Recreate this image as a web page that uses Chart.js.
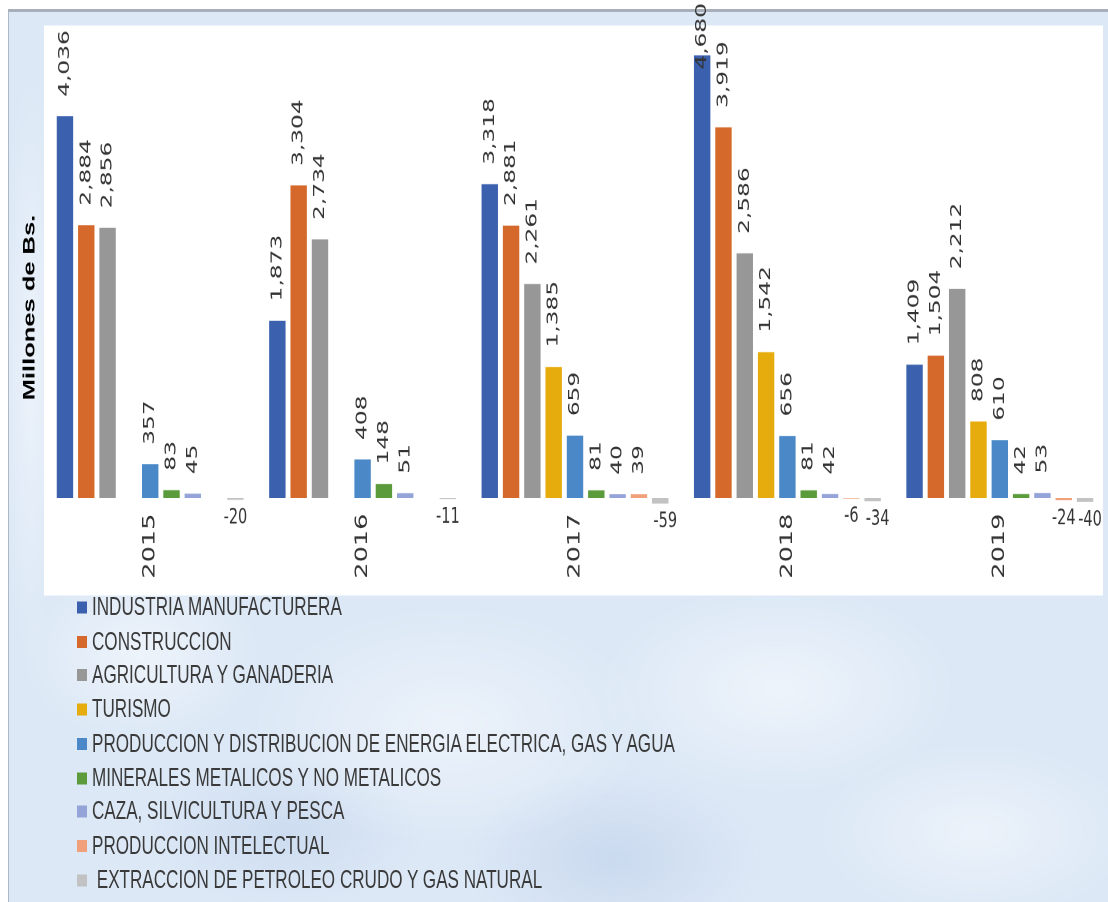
<!DOCTYPE html>
<html>
<head>
<meta charset="utf-8">
<script src="https://cdn.jsdelivr.net/npm/chart.js@4.4.1/dist/chart.umd.min.js"></script>
<style>
html,body{margin:0;padding:0;width:1108px;height:902px;overflow:hidden;background:#fff}
#stage{position:absolute;left:0;top:0;width:1108px;height:601.333px;transform:scaleY(1.5);transform-origin:0 0}
#frame{position:absolute;left:7.5px;top:5.5px;width:1100.5px;height:596px;box-sizing:border-box;
  border-left:1.5px solid #aeb8c4;border-top:2px solid #a7b0ba;
  background-color:#dce8f6;
  background-image:
    radial-gradient(ellipse 120px 60px at 12% 72%, rgba(255,255,255,0.5) 0, rgba(255,255,255,0) 100%),
    radial-gradient(ellipse 200px 80px at 40% 80%, rgba(255,255,255,0.45) 0, rgba(255,255,255,0) 100%),
    radial-gradient(ellipse 180px 70px at 70% 76%, rgba(255,255,255,0.5) 0, rgba(255,255,255,0) 100%),
    radial-gradient(ellipse 160px 60px at 88% 92%, rgba(255,255,255,0.45) 0, rgba(255,255,255,0) 100%),
    radial-gradient(ellipse 150px 60px at 55% 95%, rgba(190,208,234,0.6) 0, rgba(190,208,234,0) 100%),
    radial-gradient(ellipse 140px 50px at 25% 92%, rgba(195,212,236,0.6) 0, rgba(195,212,236,0) 100%),
    radial-gradient(ellipse 30px 200px at 2% 40%, rgba(255,255,255,0.45) 0, rgba(255,255,255,0) 100%)}
#plot{position:absolute;left:44px;top:16.67px;width:1059px;height:380px;background:#fff}
#chartbox{position:absolute;left:0;top:0;width:1108px;height:400px}
#legend{position:absolute;left:77px;top:393.6px;font:17.1px "Liberation Sans",Arial,sans-serif;color:#3a3a3a}
.row{height:22.75px;display:flex;align-items:center;white-space:pre}
.sw{display:inline-block;width:10px;height:8px;margin-right:5px;flex:none}
</style>
</head>
<body>
<div id="stage">
  <div id="frame"></div>
  <div id="plot"></div>
  <div id="chartbox"><canvas id="c"></canvas></div>
  <div id="legend"></div>
</div>
<script>
const categories = ['2015', '2016', '2017', '2018', '2019'];
const seriesNames = [
  'INDUSTRIA MANUFACTURERA',
  'CONSTRUCCION',
  'AGRICULTURA Y GANADERIA',
  'TURISMO',
  'PRODUCCION Y DISTRIBUCION DE ENERGIA ELECTRICA, GAS Y AGUA',
  'MINERALES METALICOS Y NO METALICOS',
  'CAZA, SILVICULTURA Y PESCA',
  'PRODUCCION INTELECTUAL',
  ' EXTRACCION DE PETROLEO CRUDO Y GAS NATURAL'
];
const industria       = [4036, 1873, 3318, 4680, 1409];
const construccion    = [2884, 3304, 2881, 3919, 1504];
const agricultura     = [2856, 2734, 2261, 2586, 2212];
const turismo         = [null, null, 1385, 1542, 808];
const energia         = [357, 408, 659, 656, 610];
const minerales       = [83, 148, 81, 81, 42];
const caza            = [45, 51, 40, 42, 53];
const prodIntelectual = [null, null, 39, -6, -24];
const extraccion      = [-20, -11, -59, -34, -40];
const seriesValues = [industria, construccion, agricultura, turismo, energia, minerales, caza, prodIntelectual, extraccion];
const seriesColors = ['#3b60ad', '#d4692b', '#979797', '#e6ab0c', '#4a88c7', '#5b9b3b', '#94a3d8', '#f2a07c', '#c2c2c2'];
const axisTitle = 'Millones de Bs.';

const barLabels = {
  id: 'barLabels',
  afterDatasetsDraw(chart) {
    const ctx = chart.ctx;
    ctx.save();
    ctx.fillStyle = '#333333';
    chart.data.datasets.forEach((ds, i) => {
      const meta = chart.getDatasetMeta(i);
      meta.data.forEach((bar, j) => {
        const v = ds.data[j];
        if (v === null || v === undefined) return;
        const txt = v.toLocaleString('en-US');
        if (v >= 0) {
          ctx.font = '15.5px "DejaVu Sans", sans-serif';
          const w = ctx.measureText(txt).width;
          let start = bar.y - 13;
          if (start - w < 2) start = w + 2;
          ctx.save();
          ctx.translate(bar.x, start);
          ctx.rotate(-Math.PI / 2);
          ctx.textAlign = 'left';
          ctx.textBaseline = 'middle';
          ctx.fillText(txt, 0, 0);
          ctx.restore();
        } else {
          ctx.font = '14.5px "DejaVu Sans", sans-serif';
          ctx.textAlign = 'center';
          ctx.textBaseline = 'middle';
          const dx = (i === seriesValues.length - 1 && prodIntelectual[j] !== null) ? 5 : 0;
          ctx.fillText(txt, bar.x + dx, bar.y + 12);
        }
      });
    });
    ctx.save();
    ctx.font = 'bold 17px "Liberation Sans", Arial, sans-serif';
    ctx.fillStyle = '#000';
    ctx.translate(30, 205);
    ctx.rotate(-Math.PI / 2);
    ctx.textAlign = 'center';
    ctx.textBaseline = 'middle';
    ctx.fillText(axisTitle, 0, 0);
    ctx.restore();
    ctx.restore();
  }
};

new Chart(document.getElementById('c'), {
  type: 'bar',
  data: {
    labels: categories,
    datasets: seriesNames.map((name, i) => ({
      label: name,
      data: seriesValues[i],
      backgroundColor: seriesColors[i],
      borderWidth: 0,
      categoryPercentage: 0.903,
      barPercentage: 0.77
    }))
  },
  options: {
    responsive: true,
    maintainAspectRatio: false,
    devicePixelRatio: 2,
    animation: false,
    layout: { padding: { left: 44, right: 2, top: 16.7, bottom: 13.3 } },
    plugins: { legend: { display: false }, tooltip: { enabled: false } },
    scales: {
      x: {
        grid: { display: false, drawTicks: false },
        border: { display: false },
        ticks: {
          minRotation: 90, maxRotation: 90, padding: 1,
          color: '#333333',
          font: { family: '"DejaVu Sans", sans-serif', size: 17 }
        }
      },
      y: {
        min: -150,
        max: 5000,
        ticks: { display: false, stepSize: 1000 },
        border: { display: false },
        grid: {
          drawTicks: false,
          lineWidth: 1.3,
          color: (c) => (c.tick && c.tick.value === 0 ? '#a3b1cb' : 'rgba(0,0,0,0)')
        }
      }
    }
  },
  plugins: [barLabels]
});

const legendEl = document.getElementById('legend');
seriesNames.forEach((name, i) => {
  const row = document.createElement('div');
  row.className = 'row';
  const sw = document.createElement('span');
  sw.className = 'sw';
  sw.style.background = seriesColors[i];
  const tx = document.createElement('span');
  tx.textContent = name;
  row.appendChild(sw);
  row.appendChild(tx);
  legendEl.appendChild(row);
});
</script>
</body>
</html>
